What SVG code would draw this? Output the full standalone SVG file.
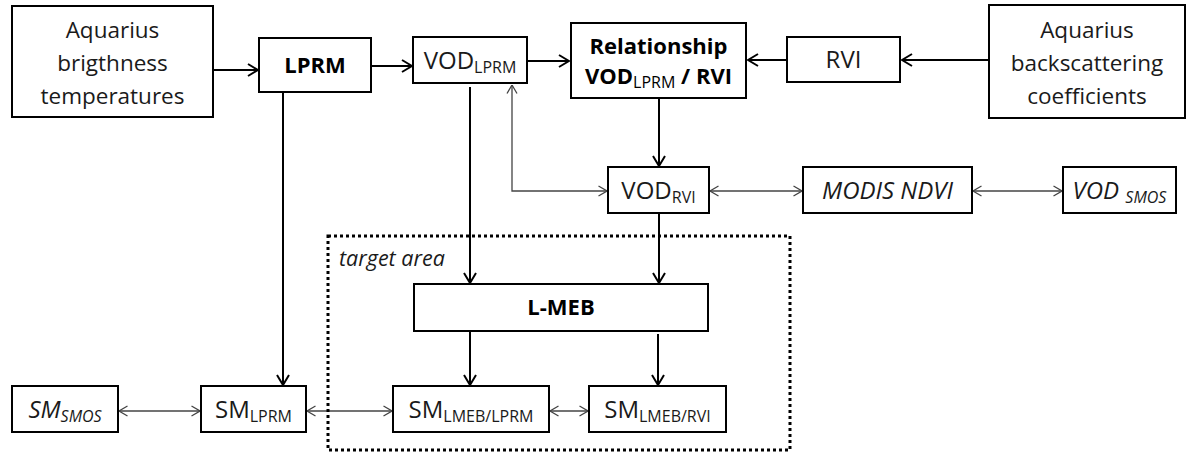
<svg xmlns="http://www.w3.org/2000/svg" width="1190" height="454" viewBox="0 0 1190 454">
<style>
.box{fill:#fff;stroke:#000;stroke-width:2}
.t{font-family:"Open Sans","Liberation Sans",sans-serif;font-size:22.5px;fill:#1a1a1a;text-anchor:middle}
.c{font-size:24px}
.b{font-weight:bold;fill:#000;font-size:22px}
.i{font-style:italic}
.sub{font-size:16px}
.thick{fill:none;stroke:#000;stroke-width:2}
.thin{fill:none;stroke:#444;stroke-width:1.3}
</style>
<defs>
<marker id="ah" viewBox="0 0 12 14" refX="11" refY="7" markerWidth="12" markerHeight="14" orient="auto-start-reverse" markerUnits="userSpaceOnUse">
<path d="M1,1 L11,7 L1,13" fill="none" stroke="#000" stroke-width="2"/>
</marker>
<marker id="aht" viewBox="0 0 10 12" refX="9.5" refY="6" markerWidth="10" markerHeight="12" orient="auto-start-reverse" markerUnits="userSpaceOnUse">
<path d="M1,1 L9.5,6 L1,11" fill="none" stroke="#444" stroke-width="1.3"/>
</marker>
</defs>
<rect width="1190" height="454" fill="#fff"/>

<g id="connectors">
<path class="thick" d="M213,70 H258" marker-end="url(#ah)"/>
<path class="thick" d="M371,66 H412" marker-end="url(#ah)"/>
<path class="thick" d="M527,61 H569" marker-end="url(#ah)"/>
<path class="thick" d="M787,60 H748" marker-end="url(#ah)"/>
<path class="thick" d="M989,60 H902" marker-end="url(#ah)"/>
<path class="thick" d="M659,99 V166" marker-end="url(#ah)"/>
<path class="thick" d="M470,87 V283" marker-end="url(#ah)"/>
<path class="thick" d="M659,214 V283" marker-end="url(#ah)"/>
<path class="thick" d="M283,92 V385" marker-end="url(#ah)"/>
<path class="thick" d="M470,332 V385" marker-end="url(#ah)"/>
<path class="thick" d="M658,334 V385" marker-end="url(#ah)"/>
<path class="thin" d="M512,85 V191 H607" marker-start="url(#aht)" marker-end="url(#aht)"/>
<path class="thin" d="M710,191 H802" marker-start="url(#aht)" marker-end="url(#aht)"/>
<path class="thin" d="M973,191 H1062" marker-start="url(#aht)" marker-end="url(#aht)"/>
<path class="thin" d="M119,411 H200" marker-start="url(#aht)" marker-end="url(#aht)"/>
<path class="thin" d="M307,411 H392" marker-start="url(#aht)" marker-end="url(#aht)"/>
<path class="thin" d="M550,411 H588" marker-start="url(#aht)" marker-end="url(#aht)"/>
</g>

<g id="target-area">
<rect x="328" y="236" width="462" height="214" fill="none" stroke="#000" stroke-width="3" stroke-dasharray="3,3"/>
<text class="t i" x="339" y="266" style="text-anchor:start;font-size:21.5px">target area</text>
</g>

<g id="aquarius-tb">
<rect class="box" x="12" y="6" width="201" height="111"/>
<text class="t" x="112.5" y="38">Aquarius</text>
<text class="t" x="112.5" y="71">brigthness</text>
<text class="t" x="112.5" y="104">temperatures</text>
</g>

<g id="lprm">
<rect class="box" x="259" y="38" width="112" height="54"/>
<text class="t b" x="315" y="73">LPRM</text>
</g>

<g id="vod-lprm">
<rect class="box" x="413" y="37" width="114" height="46"/>
<text class="t c" x="470" y="69">VOD<tspan class="sub" dy="4">LPRM</tspan></text>
</g>

<g id="relationship">
<rect class="box" x="571" y="23" width="175" height="75"/>
<text class="t b" x="658.5" y="54">Relationship</text>
<text class="t b" x="658.5" y="84">VOD<tspan class="sub" dy="4" style="font-weight:normal">LPRM</tspan><tspan dy="-4"> / RVI</tspan></text>
</g>

<g id="rvi">
<rect class="box" x="787" y="37" width="113" height="45"/>
<text class="t c" x="843.5" y="68">RVI</text>
</g>

<g id="aquarius-bs">
<rect class="box" x="989" y="5" width="196" height="113"/>
<text class="t" x="1087" y="38">Aquarius</text>
<text class="t" x="1087" y="71">backscattering</text>
<text class="t" x="1087" y="104">coefficients</text>
</g>

<g id="vod-rvi">
<rect class="box" x="608" y="167" width="101" height="46"/>
<text class="t c" x="658.5" y="199">VOD<tspan class="sub" dy="4">RVI</tspan></text>
</g>

<g id="modis-ndvi">
<rect class="box" x="803" y="167" width="169" height="46"/>
<text class="t c i" x="887.5" y="199">MODIS NDVI</text>
</g>

<g id="vod-smos">
<rect class="box" x="1063" y="167" width="113" height="46"/>
<text class="t c i" x="1119.5" y="199">VOD <tspan class="sub" dy="4">SMOS</tspan></text>
</g>

<g id="l-meb">
<rect class="box" x="414" y="284" width="294" height="47"/>
<text class="t b" x="561" y="315">L-MEB</text>
</g>

<g id="sm-smos">
<rect class="box" x="12" y="386" width="106" height="46"/>
<text class="t c i" x="65" y="418">SM<tspan class="sub" dy="4">SMOS</tspan></text>
</g>

<g id="sm-lprm">
<rect class="box" x="201" y="386" width="105" height="46"/>
<text class="t c" x="253.5" y="418">SM<tspan class="sub" dy="4">LPRM</tspan></text>
</g>

<g id="sm-lmeb-lprm">
<rect class="box" x="393" y="386" width="156" height="46"/>
<text class="t c" x="471" y="418">SM<tspan class="sub" dy="4">LMEB/LPRM</tspan></text>
</g>

<g id="sm-lmeb-rvi">
<rect class="box" x="589" y="386" width="137" height="46"/>
<text class="t c" x="657.5" y="418">SM<tspan class="sub" dy="4">LMEB/RVI</tspan></text>
</g>
</svg>
